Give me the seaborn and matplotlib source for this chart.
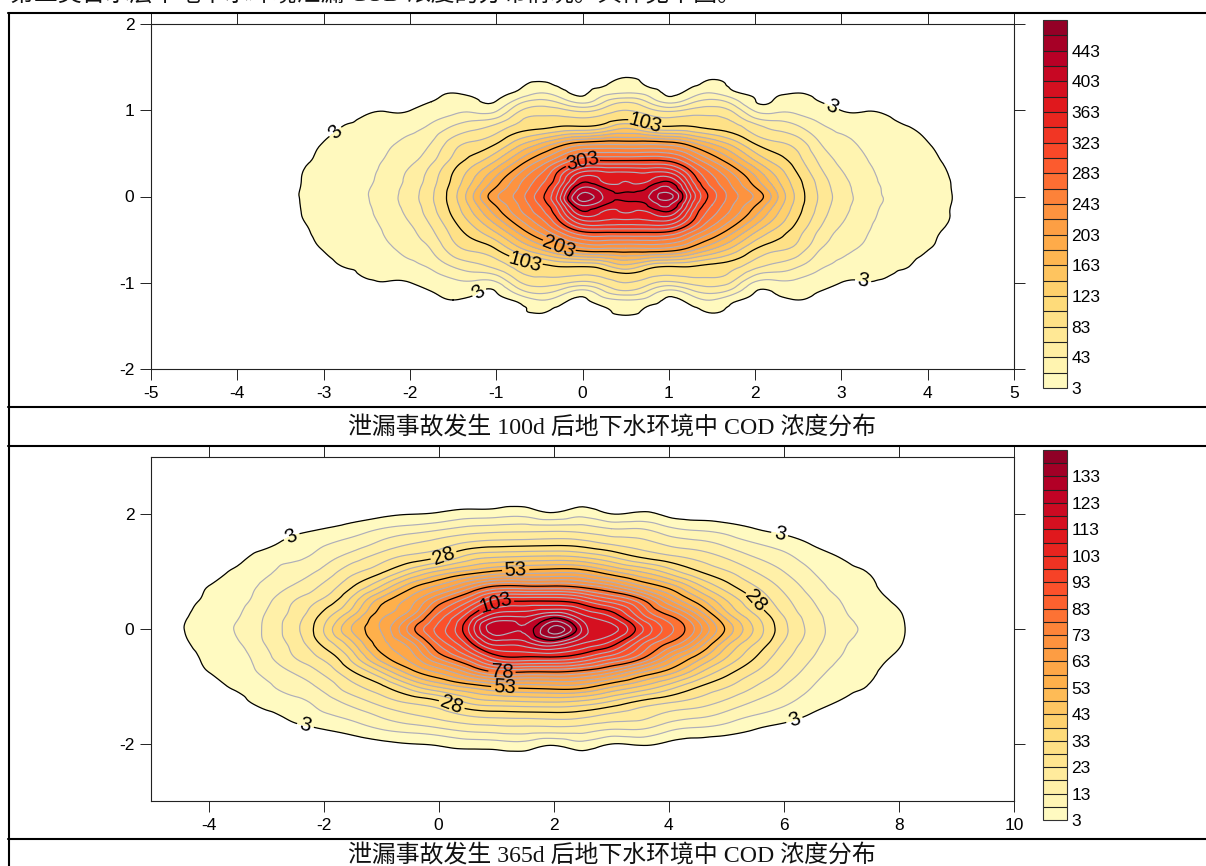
import numpy as np
import seaborn as sns
import matplotlib
matplotlib.use("Agg")
import matplotlib.pyplot as plt
from matplotlib.lines import Line2D
from matplotlib.tri import Triangulation, UniformTriRefiner

# 100d: values on one quadrant, field is symmetric about x=0.5 and y=0
y_100d = [0, 0.1, 0.2, 0.4, 0.6, 0.8, 0.9, 1.0, 1.1, 1.2, 1.3, 1.4]
d_100d = [0, 0.25, 0.5, 0.75, 1.0, 1.25, 1.5, 1.75, 2.0, 2.25, 2.5, 2.75, 3.0, 3.25, 3.5, 3.75, 4.0, 4.25]
center_100d = 0.5
cod_100d = [  # one list per d_100d
    [410, 394, 381, 311, 223, 140, 100, 83, 60, 23, 11, 0],
    [420, 403, 378, 311, 224, 119, 91, 71, 42, 16, 1, 0],
    [452, 425, 393, 307, 220, 108, 85, 57, 17, 0, 0, 0],
    [365, 348, 327, 270, 198, 107, 88, 68, 36, 11, 0, 0],
    [293, 283, 270, 228, 167, 98, 87, 72, 50, 23, 6, 0],
    [250, 242, 232, 188, 138, 91, 77, 58, 33, 7, 0, 0],
    [220, 205, 189, 147, 105, 71, 46, 20, 3.5, 0.5, 0, 0],
    [167, 157, 145, 117, 89, 58, 38, 18, 6, 0.5, 0, 0],
    [115, 112, 107, 91, 75, 46, 30, 18, 10, 3, 0.5, 0],
    [80, 78, 74, 60, 45, 28, 19, 11, 3, 0.5, 0, 0],
    [53, 51, 48, 39, 30, 18, 10, 2.8, 0.5, 0, 0, 0],
    [36, 35, 33, 27, 20, 12, 6, 2.5, 0.5, 0, 0, 0],
    [22, 21, 19, 15, 11, 6, 4, 2, 0.5, 0, 0, 0],
    [16, 15, 14, 11, 7, 3.5, 1.5, 0.5, 0, 0, 0, 0],
    [10, 9.5, 8.5, 6, 3.5, 1, 0.5, 0, 0, 0, 0, 0],
    [3.5, 3.3, 3.1, 2, 0.8, 0.3, 0, 0, 0, 0, 0, 0],
    [1.5, 1.3, 1, 0.5, 0.2, 0, 0, 0, 0, 0, 0, 0],
    [0, 0, 0, 0, 0, 0, 0, 0, 0, 0, 0, 0],
]

# 365d: values on the upper half, mirrored about y=0
y_365d = [0, 0.25, 0.5, 0.75, 1.0, 1.25, 1.5, 1.75, 2.0, 2.25]
x_365d = [-5, -4.5, -4, -3.5, -3, -2.5, -2, -1.5, -1, -0.5, 0, 0.5, 1, 1.5, 2, 2.5, 3, 3.5, 4,
          4.5, 5, 5.5, 6, 6.5, 7, 7.5, 8, 8.5]
cod_365d = [  # one list per x_365d
    [0, 0, 0, 0, 0, 0, 0, 0, 0, 0],
    [2.5, 2, 1, 0.3, 0, 0, 0, 0, 0, 0],
    [5.5, 4.7, 3.9, 3, 1.5, 0.3, 0, 0, 0, 0],
    [8.5, 7.4, 6.2, 5, 3.8, 1.5, 0.3, 0, 0, 0],
    [14, 13.4, 11.5, 9.5, 7, 5.3, 1.7, 0.5, 0, 0],
    [21.5, 20, 18, 13.5, 10.5, 7, 4.8, 1.5, 0, 0],
    [33, 29.5, 24, 19, 14.5, 10.5, 7.3, 3, 0.5, 0],
    [48.5, 42, 35, 27.5, 21.5, 15.5, 10, 5, 1, 0],
    [58.5, 56, 50.5, 38, 27, 20.5, 14, 8, 2, 0],
    [75, 66, 60, 50.5, 36, 24.5, 17.5, 10, 3, 0],
    [90, 84, 74, 59, 44, 28, 20, 12, 3.8, 0],
    [107, 99.5, 86, 69, 49.5, 35, 23.5, 14.5, 5.5, 0],
    [127, 115, 100, 78, 54, 38, 25, 15.5, 6, 0],
    [124, 116, 102, 78, 55.5, 39, 25.5, 16, 6.5, 0],
    [140, 122, 102, 78, 56.5, 39.5, 26, 16, 4, 0],
    [122, 113, 98, 75.5, 55.5, 38, 25, 15.5, 6.5, 0],
    [115, 106, 90, 69, 49, 33.5, 22, 13, 3.2, 0],
    [100, 90, 80, 59, 43, 28, 20, 13, 4, 0],
    [85, 77.5, 64, 50.5, 36, 24.5, 16.5, 9, 2, 0],
    [71, 63, 50.5, 39.5, 28.5, 21.5, 14.5, 7, 1, 0],
    [52, 45, 38, 30, 23.5, 17.5, 11.5, 5.5, 0.3, 0],
    [37, 33, 28, 23, 18, 13, 8, 3, 0.7, 0],
    [24.5, 22.5, 19.5, 16.5, 13, 9.5, 5.5, 1.5, 0, 0],
    [16, 15, 13, 10.5, 8, 5.5, 2.5, 0.3, 0, 0],
    [10, 9, 7.8, 6, 4.5, 2.8, 0.5, 0, 0, 0],
    [6.8, 6, 5, 3.8, 2.7, 0.5, 0, 0, 0, 0],
    [3.8, 3.4, 2, 0.5, 0, 0, 0, 0, 0, 0],
    [0, 0, 0, 0, 0, 0, 0, 0, 0, 0],
]

levels_100d = list(range(3, 484, 20))
major_100d = [3, 103, 203, 303, 403]
cbar_ticks_100d = list(range(3, 444, 40))
labels_100d = [(-2.89, 0.77), (2.88, 1.03), (-1.18, -1.12), (3.26, -0.95),
               (0.72, 0.84), (-0.66, -0.75), (-0.27, -0.57), (0.0, 0.40)]
levels_365d = list(range(3, 144, 5))
major_365d = [3, 28, 53, 78, 103, 128]
cbar_ticks_365d = list(range(3, 134, 10))
labels_365d = [(-2.55, 1.6), (5.93, 1.67), (-2.32, -1.7), (6.18, -1.58),
               (0.09, 1.27), (5.5, 0.48), (0.2, -1.37), (1.34, 1.0),
               (1.15, -1.0), (1.1, -0.75), (0.98, 0.48)]

caption_100d = "泄漏事故发生 100d 后地下水环境中 COD 浓度分布"
caption_365d = "泄漏事故发生 365d 后地下水环境中 COD 浓度分布"
head_text = "第二类含水层中地下水环境泄漏 COD 浓度的分布情况。具体见下图。"

sns.set_theme(style="white")
plt.rcParams["font.family"] = ["Liberation Sans", "DejaVu Sans"]
plt.rcParams["axes.unicode_minus"] = False
serif_cjk = ["Liberation Serif", "Noto Sans CJK SC"]

W, H = 1206, 866
fig = plt.figure(figsize=(W / 100, H / 100), dpi=100, facecolor="white")


def px_axes(left, top, right, bottom):
    return fig.add_axes([left / W, 1 - bottom / H, (right - left) / W, (bottom - top) / H])


def draw_panel(ax, cax, x, y, z, levels, major, labels, cbar_ticks, xlim, ylim, xticks, yticks):
    colors = sns.color_palette("YlOrRd", len(levels) - 1)
    # matplotlib's own refiner rounds the contours between the read values
    xx, yy = np.meshgrid(x, y)
    tri_f, z_f = UniformTriRefiner(Triangulation(xx.ravel(), yy.ravel())).refine_field(z.ravel(), subdiv=3)
    cf = ax.tricontourf(tri_f, z_f, levels=levels, colors=colors)
    minor = [v for v in levels[:-1] if v not in major]
    ax.tricontour(tri_f, z_f, levels=minor, colors="#aeaeba", linewidths=0.85)
    cs = ax.tricontour(tri_f, z_f, levels=major, colors="black", linewidths=0.9)
    ax.clabel(cs, manual=labels, fmt="%d", fontsize=14.5, inline=True, inline_spacing=4)
    ax.set_xlim(xlim)
    ax.set_ylim(ylim)
    ax.set_xticks(xticks)
    ax.set_yticks(yticks)
    ax.tick_params(axis="both", which="major", direction="out", length=8, width=0.7, color="#222222",
                   labelsize=12.5, pad=4, top=True, right=True, bottom=True, left=True,
                   labelcolor="black")
    for sp in ax.spines.values():
        sp.set_visible(True)
        sp.set_color("#222222")
        sp.set_linewidth(0.8)
    cb = fig.colorbar(cf, cax=cax, drawedges=True, ticks=cbar_ticks)
    cb.dividers.set_color("#222222")
    cb.dividers.set_linewidth(0.8)
    cb.outline.set_edgecolor("#333333")
    cb.outline.set_linewidth(0.8)
    cb.ax.tick_params(length=0, labelsize=12.5, pad=3, labelcolor="black")


# 100d panel
d1 = np.array(d_100d)
q1 = np.array(cod_100d, dtype=float).T
y1 = np.array(y_100d)
x1_full = np.concatenate([center_100d - d1[:0:-1], center_100d + d1])
y1_full = np.concatenate([-y1[:0:-1], y1])
z1 = np.hstack([q1[:, :0:-1], q1])
z1 = np.vstack([z1[:0:-1], z1])

ax1 = px_axes(151, 24, 1014, 369)
cax1 = px_axes(1043, 20, 1067, 388)
draw_panel(ax1, cax1, x1_full, y1_full, z1, levels_100d, major_100d, labels_100d, cbar_ticks_100d,
           (-5, 5), (-2, 2), list(range(-5, 6)), list(range(-2, 3)))

# 365d panel
q2 = np.array(cod_365d, dtype=float).T
y2 = np.array(y_365d)
y2_full = np.concatenate([-y2[:0:-1], y2])
z2 = np.vstack([q2[:0:-1], q2])

ax2 = px_axes(151, 457, 1014, 801)
cax2 = px_axes(1043, 450, 1067, 820)
draw_panel(ax2, cax2, x_365d, y2_full, z2, levels_365d, major_365d, labels_365d, cbar_ticks_365d,
           (-5, 10), (-3, 3), list(range(-4, 11, 2)), [-2, 0, 2])

# the table frame of the page
for ypx in [13, 407, 446, 839]:
    fig.add_artist(Line2D([8 / W, 1], [1 - ypx / H, 1 - ypx / H], color="black", lw=1.5))
fig.add_artist(Line2D([8.5 / W, 8.5 / W], [0, 1 - 13 / H], color="black", lw=1.5))

fig.text(612 / W, 1 - 428 / H, caption_100d, ha="center", va="center", fontsize=17.2,
         family=serif_cjk, color="#111111")
fig.text(612 / W, 1 - 856 / H, caption_365d, ha="center", va="center", fontsize=17.2,
         family=serif_cjk, color="#111111")
fig.text(10 / W, 1 - 1 / H, head_text, ha="left", va="baseline", fontsize=17.2,
         family=serif_cjk, color="#111111")

fig.savefig("out.png", dpi=100)
